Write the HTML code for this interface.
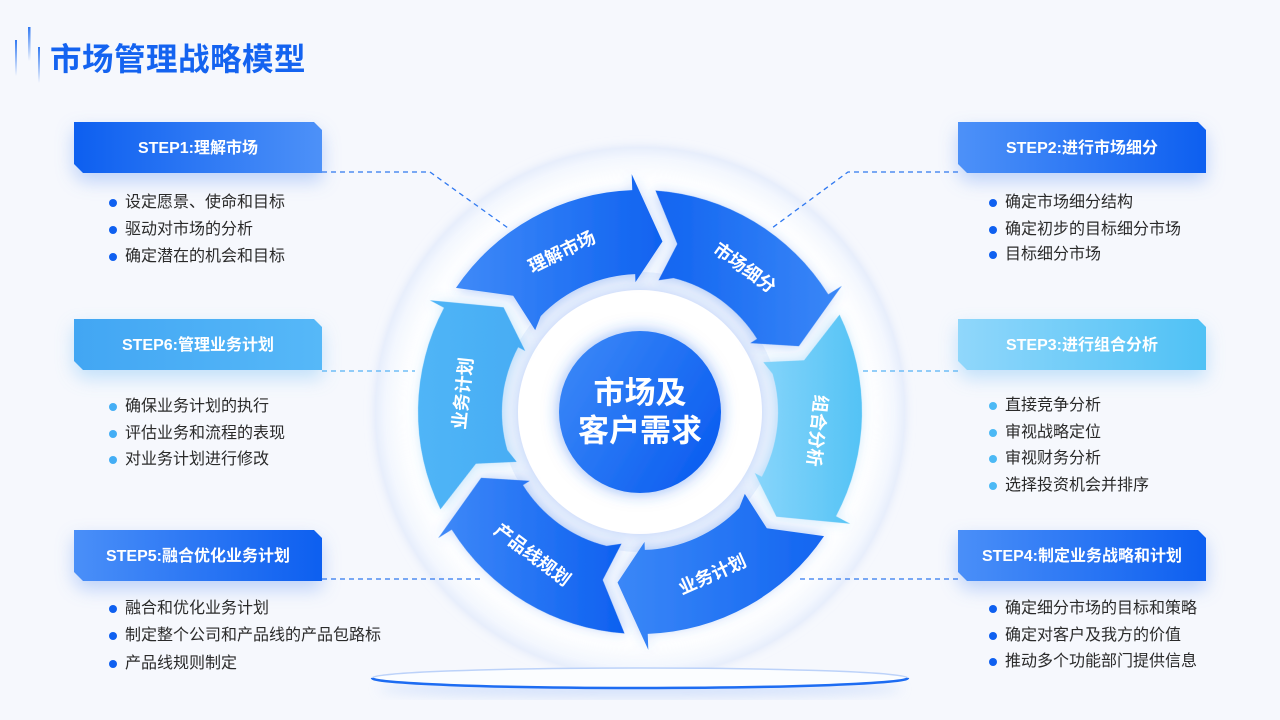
<!DOCTYPE html>
<html><head><meta charset="utf-8">
<style>
*{margin:0;padding:0;box-sizing:border-box}
html,body{width:1280px;height:720px;overflow:hidden;background:#f6f8fd;font-family:"Liberation Sans","Noto Sans CJK SC",sans-serif;position:relative}
.title{position:absolute;left:50px;top:39px;font-size:31.5px;font-weight:bold;color:#1463f0;line-height:40px;letter-spacing:0.5px;white-space:nowrap}
.bw{position:absolute;width:248px;height:51px}
.bw.dk{filter:drop-shadow(0 8px 9px rgba(40,110,240,0.28))}
.bw.lt{filter:drop-shadow(0 8px 9px rgba(70,170,245,0.30))}
.box{width:248px;height:51px;color:#fff;font-weight:bold;font-size:16px;line-height:51px;padding-top:1px;text-align:center;white-space:nowrap;
clip-path:polygon(0 0,calc(100% - 8px) 0,100% 8px,100% 100%,9px 100%,0 calc(100% - 9px))}
.li{position:absolute;font-size:16px;color:#2a2a2a;line-height:20px;white-space:nowrap;padding-left:16px}
.li::before{content:"";position:absolute;left:0;top:6px;width:8px;height:8px;border-radius:50%;background:#0f60f0}
.li.l::before{background:#44aef5}
.li.c::before{background:#4cb9f5}
svg{position:absolute;left:0;top:0}
</style></head><body>
<svg width="1280" height="720" viewBox="0 0 1280 720">
<defs>
 <linearGradient id="dl" x1="0" y1="0" x2="0" y2="1"><stop offset="0" stop-color="#2f78f2"/><stop offset="1" stop-color="#2f78f2" stop-opacity="0"/></linearGradient>
 <radialGradient id="disc" cx="640" cy="412" r="265" gradientUnits="userSpaceOnUse">
  <stop offset="0" stop-color="#ffffff"/><stop offset="0.86" stop-color="#fdfeff"/><stop offset="0.96" stop-color="#f3f7fe"/><stop offset="1" stop-color="#e7eefc"/>
 </radialGradient>
 <linearGradient id="g0" gradientUnits="userSpaceOnUse" x1="455" y1="0" x2="665" y2="0"><stop offset="0" stop-color="#3f8af8"/><stop offset="1" stop-color="#0f62f0"/></linearGradient>
 <linearGradient id="g1" gradientUnits="userSpaceOnUse" x1="655" y1="0" x2="850" y2="0" gradientTransform="rotate(-60 640 412)"><stop offset="0" stop-color="#1164f1"/><stop offset="1" stop-color="#3d89f7"/></linearGradient>
 <linearGradient id="g2" gradientUnits="userSpaceOnUse" x1="750" y1="0" x2="865" y2="0" gradientTransform="rotate(-120 640 412)"><stop offset="0" stop-color="#8ad6fb"/><stop offset="1" stop-color="#52c2f5"/></linearGradient>
 <linearGradient id="g3" gradientUnits="userSpaceOnUse" x1="620" y1="0" x2="850" y2="0" gradientTransform="rotate(-180 640 412)"><stop offset="0" stop-color="#3a87f7"/><stop offset="1" stop-color="#0e61f0"/></linearGradient>
 <linearGradient id="g4" gradientUnits="userSpaceOnUse" x1="436" y1="0" x2="625" y2="0" gradientTransform="rotate(-240 640 412)"><stop offset="0" stop-color="#3f89f8"/><stop offset="1" stop-color="#0d60f0"/></linearGradient>
 <linearGradient id="g5" gradientUnits="userSpaceOnUse" x1="418" y1="0" x2="540" y2="0" gradientTransform="rotate(-300 640 412)"><stop offset="0" stop-color="#50b5f7"/><stop offset="1" stop-color="#45abf3"/></linearGradient>
 <linearGradient id="cg" x1="0" y1="0.2" x2="1" y2="0.8"><stop offset="0" stop-color="#3a87f7"/><stop offset="1" stop-color="#0a5cf0"/></linearGradient>
 <filter id="sh" x="-30%" y="-30%" width="160%" height="160%"><feDropShadow dx="0" dy="2" stdDeviation="6" flood-color="#3a7cf0" flood-opacity="0.35"/></filter>
 <filter id="shl" x="-30%" y="-30%" width="160%" height="160%"><feDropShadow dx="0" dy="2" stdDeviation="6" flood-color="#4fb0f5" flood-opacity="0.35"/></filter>
 <filter id="ring" x="-30%" y="-30%" width="160%" height="160%"><feDropShadow dx="0" dy="0" stdDeviation="6" flood-color="#8fb2f5" flood-opacity="0.5"/></filter>
 <filter id="cgl" x="-40%" y="-40%" width="180%" height="180%"><feDropShadow dx="0" dy="0" stdDeviation="8" flood-color="#2f74f0" flood-opacity="0.55"/></filter>
 <filter id="dsh" x="-20%" y="-20%" width="140%" height="140%"><feDropShadow dx="0" dy="0" stdDeviation="5" flood-color="#c9d8f7" flood-opacity="0.6"/></filter>
 <filter id="blur6"><feGaussianBlur stdDeviation="6"/></filter>
 <filter id="blur10" x="-20%" y="-20%" width="140%" height="140%"><feGaussianBlur stdDeviation="10"/></filter>
</defs>

<rect x="15" y="40" width="2" height="36" fill="url(#dl)"/>
<rect x="28" y="27" width="2.5" height="34" fill="url(#dl)"/>
<rect x="38" y="47" width="2" height="36" fill="url(#dl)"/>

<circle cx="640" cy="412" r="265" fill="url(#disc)" filter="url(#dsh)"/>
<circle cx="640" cy="412" r="238" fill="#ffffff" opacity="0.8" filter="url(#blur10)"/>

<ellipse cx="640" cy="689" rx="262" ry="9" fill="#bcd2fa" opacity="0.55" filter="url(#blur6)"/>
<ellipse cx="640" cy="678" rx="268" ry="10" fill="#fbfdff" stroke="#bcd2f9" stroke-width="1.5"/>
<path d="M372 678 A268 10 0 0 0 908 678" fill="none" stroke="#1d6cf2" stroke-width="2.5"/>

<g fill="none" stroke-width="1.3" stroke-dasharray="5 4">
 <path d="M322 172 H430 L508 228" stroke="#2f78f0"/>
 <path d="M958 172 H848 L772 228" stroke="#2f78f0"/>
 <path d="M322 371 H415" stroke="#55b2f5"/>
 <path d="M958 371 H862" stroke="#55b2f5"/>
 <path d="M322 579 H482" stroke="#2f78f0"/>
 <path d="M958 579 H798" stroke="#2f78f0"/>
</g>

<circle cx="640" cy="412" r="140" fill="#ecf2fd"/>
<circle cx="640" cy="412" r="122" fill="#ffffff" filter="url(#ring)"/>

<g>
 <path d="M455.95 287.86 A222 222 0 0 1 632.25 190.14 L631.69 174.15 L662.45 241.47 L635.46 282.08 L635.18 274.08 A138 138 0 0 0 540.73 316.14 L535.19 330.12 L513.19 295.8 Z" fill="url(#g0)" filter="url(#sh)"/>
 <path d="M455.95 287.86 A222 222 0 0 1 632.25 190.14 L631.69 174.15 L662.45 241.47 L635.46 282.08 L635.18 274.08 A138 138 0 0 0 540.73 316.14 L535.19 330.12 L513.19 295.8 Z" fill="url(#g1)" filter="url(#sh)" transform="rotate(60 640 412)"/>
 <path d="M455.95 287.86 A222 222 0 0 1 632.25 190.14 L631.69 174.15 L662.45 241.47 L635.46 282.08 L635.18 274.08 A138 138 0 0 0 540.73 316.14 L535.19 330.12 L513.19 295.8 Z" fill="url(#g2)" filter="url(#shl)" transform="rotate(120 640 412)"/>
 <path d="M455.95 287.86 A222 222 0 0 1 632.25 190.14 L631.69 174.15 L662.45 241.47 L635.46 282.08 L635.18 274.08 A138 138 0 0 0 540.73 316.14 L535.19 330.12 L513.19 295.8 Z" fill="url(#g3)" filter="url(#sh)" transform="rotate(180 640 412)"/>
 <path d="M455.95 287.86 A222 222 0 0 1 632.25 190.14 L631.69 174.15 L662.45 241.47 L635.46 282.08 L635.18 274.08 A138 138 0 0 0 540.73 316.14 L535.19 330.12 L513.19 295.8 Z" fill="url(#g4)" filter="url(#sh)" transform="rotate(240 640 412)"/>
 <path d="M455.95 287.86 A222 222 0 0 1 632.25 190.14 L631.69 174.15 L662.45 241.47 L635.46 282.08 L635.18 274.08 A138 138 0 0 0 540.73 316.14 L535.19 330.12 L513.19 295.8 Z" fill="url(#g5)" filter="url(#shl)" transform="rotate(300 640 412)"/>
</g>

<g fill="#ffffff" font-family="Liberation Sans, Noto Sans CJK SC, sans-serif" font-size="18" font-weight="bold" text-anchor="middle" dominant-baseline="central">
 <text x="640" y="234" transform="rotate(-26 640 412)">理解市场</text>
 <text x="640" y="234" transform="rotate(36 640 412)">市场细分</text>
 <text x="640" y="234" transform="rotate(96 640 412)">组合分析</text>
 <text x="640" y="590" transform="rotate(-24 640 412)">业务计划</text>
 <text x="640" y="591" transform="rotate(37 640 412)">产品线规划</text>
 <text x="640" y="234" transform="rotate(-84 640 412)">业务计划</text>
</g>

<circle cx="640" cy="412" r="81" fill="url(#cg)" filter="url(#cgl)"/>
<g fill="#ffffff" font-family="Liberation Sans, Noto Sans CJK SC, sans-serif" font-size="31" font-weight="bold" text-anchor="middle" dominant-baseline="central">
 <text x="640" y="393">市场及</text>
 <text x="640" y="431">客户需求</text>
</g>
</svg>

<div class="title">市场管理战略模型</div>

<div class="bw dk" style="left:74px;top:122px"><div class="box" style="background:linear-gradient(90deg,#0d5ff0,#4d91f8)">STEP1:理解市场</div></div>
<div class="bw dk" style="left:958px;top:122px"><div class="box" style="background:linear-gradient(90deg,#4d91f8,#0d5ff0)">STEP2:进行市场细分</div></div>
<div class="bw lt" style="left:74px;top:319px"><div class="box" style="background:linear-gradient(90deg,#42a6f3,#56b8f8)">STEP6:管理业务计划</div></div>
<div class="bw lt" style="left:958px;top:319px"><div class="box" style="background:linear-gradient(90deg,#90d7fb,#4fc1f5)">STEP3:进行组合分析</div></div>
<div class="bw dk" style="left:74px;top:530px"><div class="box" style="background:linear-gradient(90deg,#4a8ff8,#0d5ff0)">STEP5:融合优化业务计划</div></div>
<div class="bw dk" style="left:958px;top:530px"><div class="box" style="background:linear-gradient(90deg,#4a8ff8,#0d5ff0)">STEP4:制定业务战略和计划</div></div>

<div class="li" style="left:109px;top:193px">设定愿景、使命和目标</div>
<div class="li" style="left:109px;top:220px">驱动对市场的分析</div>
<div class="li" style="left:109px;top:247px">确定潜在的机会和目标</div>

<div class="li" style="left:989px;top:193px">确定市场细分结构</div>
<div class="li" style="left:989px;top:220px">确定初步的目标细分市场</div>
<div class="li" style="left:989px;top:245px">目标细分市场</div>

<div class="li l" style="left:109px;top:397px">确保业务计划的执行</div>
<div class="li l" style="left:109px;top:424px">评估业务和流程的表现</div>
<div class="li l" style="left:109px;top:450px">对业务计划进行修改</div>

<div class="li c" style="left:989px;top:396px">直接竞争分析</div>
<div class="li c" style="left:989px;top:423px">审视战略定位</div>
<div class="li c" style="left:989px;top:449px">审视财务分析</div>
<div class="li c" style="left:989px;top:476px">选择投资机会并排序</div>

<div class="li" style="left:109px;top:599px">融合和优化业务计划</div>
<div class="li" style="left:109px;top:626px">制定整个公司和产品线的产品包路标</div>
<div class="li" style="left:109px;top:654px">产品线规则制定</div>

<div class="li" style="left:989px;top:599px">确定细分市场的目标和策略</div>
<div class="li" style="left:989px;top:626px">确定对客户及我方的价值</div>
<div class="li" style="left:989px;top:652px">推动多个功能部门提供信息</div>
</body></html>
